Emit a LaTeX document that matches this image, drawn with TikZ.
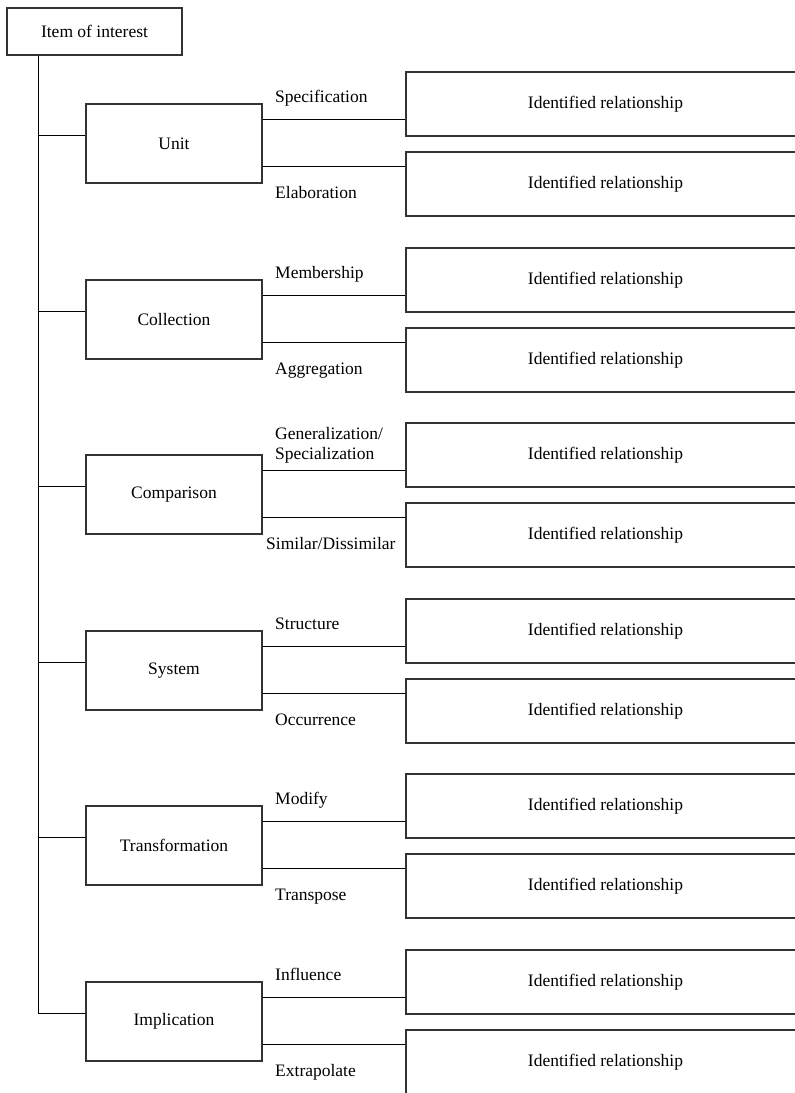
\documentclass[tikz,border=0pt]{standalone}
\usepackage{fontspec}
\setmainfont{Liberation Serif}
\begin{document}
\begin{tikzpicture}[x=1pt,y=-1pt,
  txt/.style={font=\fontsize{17.5}{20}\selectfont},
  box/.style={txt, draw=black!80, line width=1.2pt, inner sep=0pt},
  itembox/.style={box, minimum width=175pt, minimum height=47pt},
  groupbox/.style={box, minimum width=176pt, minimum height=79pt},
  relbox/.style={box, minimum width=399pt, minimum height=64pt},
  conn/.style={draw=black, line width=1pt},
  lbl/.style={txt, inner sep=0pt, align=left}]
\useasboundingbox (0,0) rectangle (795,1093);
\clip (0,0) rectangle (795,1093);
\node[itembox] (top) at (94.5,31.5) {Item of interest};
\path (top.south west) ++(32,0) coordinate (trunk);
\foreach \i/\T/\name/\up/\uy/\ua/\low/\lx in {
  1/104/Unit/{Specification}/-2/base west/{Elaboration}/275,
  2/280/Collection/{Membership}/-2/base west/{Aggregation}/275,
  3/455/Comparison/{Generalization/\\Specialization}/8/south west/{Similar/Dissimilar}/266,
  4/631/System/{Structure}/-2/base west/{Occurrence}/275,
  5/806/Transformation/{Modify}/-2/base west/{Transpose}/275,
  6/982/Implication/{Influence}/-2/base west/{Extrapolate}/275}{
  \node[groupbox] (g\i) at (174,\T+39.5) {\name};
  \node[relbox] (a\i) at (605.5,\T) {Identified relationship};
  \node[relbox] (b\i) at (605.5,\T+80) {Identified relationship};
  \path (g\i.north west) ++(0,32) coordinate (br\i);
  \draw[conn] (br\i -| trunk) -- (br\i);
  \path (g\i.north east) ++(0,16) coordinate (cu\i);
  \path (g\i.north east) ++(0,63.5) coordinate (cl\i);
  \draw[conn] (cu\i) -- (cu\i -| a\i.west);
  \draw[conn] (cl\i) -- (cl\i -| b\i.west);
  \node[lbl, anchor=\ua] (lu\i) at (275,\T+\uy) {\up};
  \node[lbl, anchor=base west] (ll\i) at (\lx,\T+94) {\low};
}
\draw[conn] (trunk) -- (trunk |- br6);
\end{tikzpicture}
\end{document}
